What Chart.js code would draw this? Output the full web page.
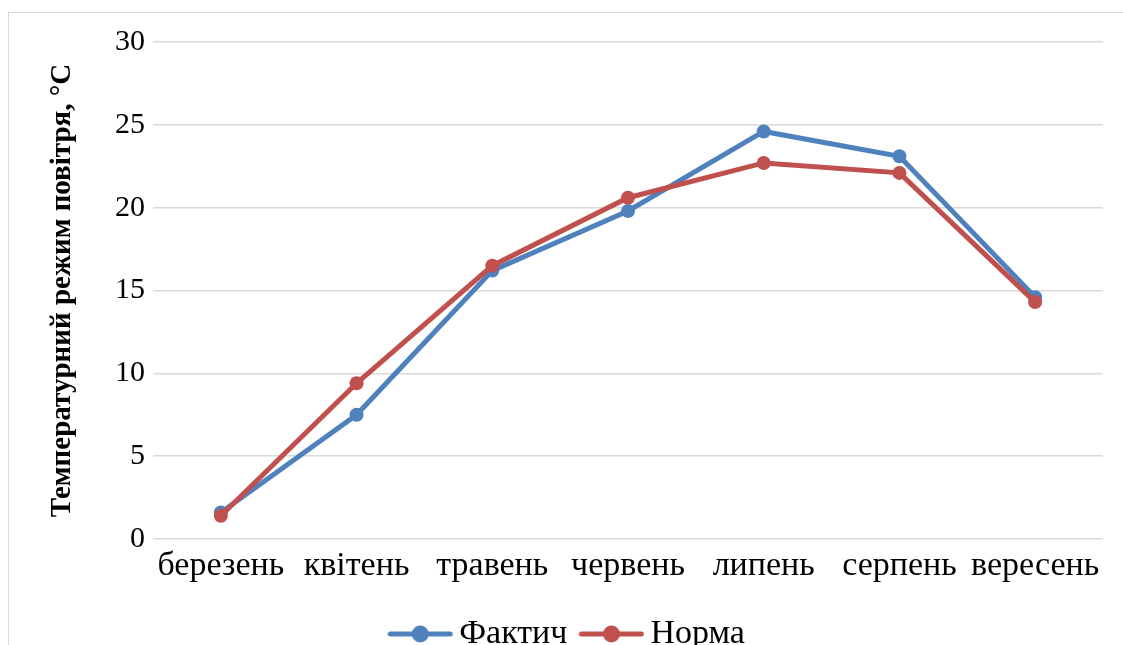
<!DOCTYPE html>
<html lang="uk">
<head>
  <meta charset="UTF-8" />
  <title>Температурний режим повітря</title>
  <script src="https://cdn.jsdelivr.net/npm/chart.js"></script>
  <style>
    body {
      margin: 0;
      background: #fff;
      overflow: hidden;
    }
    .frame {
      position: absolute;
      left: 8px;
      top: 12px;
      width: 1200px;
      height: 700px;
      border: 1px solid #d9d9d9;
    }
    .chart-box {
      position: absolute;
      left: 0;
      top: 0;
      width: 1123px;
      height: 661px;
    }
  </style>
</head>
<body>
  <div class="frame"></div>
  <div class="chart-box">
    <canvas id="temp-chart"></canvas>
  </div>

  <script>
    const months = ["березень", "квітень", "травень", "червень", "липень", "серпень", "вересень"];
    const actualTemp = [1.6, 7.5, 16.2, 19.8, 24.6, 23.1, 14.6];
    const normTemp = [1.4, 9.4, 16.5, 20.6, 22.7, 22.1, 14.3];

    const blue = "#4f81bd";
    const red = "#c0504d";
    const font = "'Liberation Serif', 'Times New Roman', serif";

    // legend marker: line with a dot in the middle
    function legendMarker(color) {
      const c = document.createElement("canvas");
      c.width = 66;
      c.height = 20;
      const g = c.getContext("2d");
      g.strokeStyle = color;
      g.lineWidth = 5;
      g.lineCap = "round";
      g.beginPath();
      g.moveTo(3, 10);
      g.lineTo(63, 10);
      g.stroke();
      g.fillStyle = color;
      g.beginPath();
      g.arc(33, 10, 8.5, 0, Math.PI * 2);
      g.fill();
      return c;
    }

    const markers = [legendMarker(blue), legendMarker(red)];

    new Chart(document.getElementById("temp-chart"), {
      type: "line",
      data: {
        labels: months,
        datasets: [
          {
            label: "Фактич",
            data: actualTemp,
            borderColor: blue,
            backgroundColor: blue,
            borderWidth: 5,
            pointRadius: 7,
            pointBorderWidth: 0,
            order: 1
          },
          {
            label: "Норма",
            data: normTemp,
            borderColor: red,
            backgroundColor: red,
            borderWidth: 5,
            pointRadius: 7,
            pointBorderWidth: 0,
            order: 0
          }
        ]
      },
      options: {
        responsive: true,
        maintainAspectRatio: false,
        animation: false,
        layout: { padding: { left: 40, right: 20, top: 42, bottom: 0 } },
        plugins: {
          tooltip: { enabled: false },
          legend: {
            position: "bottom",
            labels: {
              font: { family: font, size: 34 },
              color: "#000",
              usePointStyle: true,
              // marker image is wider than its box so the text sits close to it
              pointStyleWidth: 44,
              padding: 22,
              sort: (a, b) => a.datasetIndex - b.datasetIndex,
              generateLabels: chart => chart.data.datasets.map((ds, i) => ({
                text: ds.label,
                datasetIndex: i,
                pointStyle: markers[i],
                fillStyle: ds.borderColor,
                strokeStyle: ds.borderColor,
                lineWidth: 0,
                fontColor: "#000",
                hidden: false
              }))
            }
          }
        },
        scales: {
          x: {
            offset: true,
            grid: { display: false, drawTicks: false },
            border: { display: false },
            ticks: {
              font: { family: font, size: 34 },
              color: "#000",
              padding: 7,
              maxRotation: 0,
              autoSkip: false
            },
            afterFit: scale => { scale.height = 56; }
          },
          y: {
            min: 0,
            max: 30,
            grid: { color: "#d9d9d9", lineWidth: 1.5, drawTicks: false },
            border: { display: false },
            ticks: {
              stepSize: 5,
              font: { family: font, size: 30 },
              color: "#000",
              padding: 8
            },
            title: {
              display: true,
              text: "Температурний режим повітря, °C",
              font: { family: font, size: 29, weight: "bold" },
              color: "#000",
              padding: { top: 5, bottom: 0 }
            },
            afterFit: scale => { scale.width = 113; }
          }
        }
      }
    });
  </script>
</body>
</html>
